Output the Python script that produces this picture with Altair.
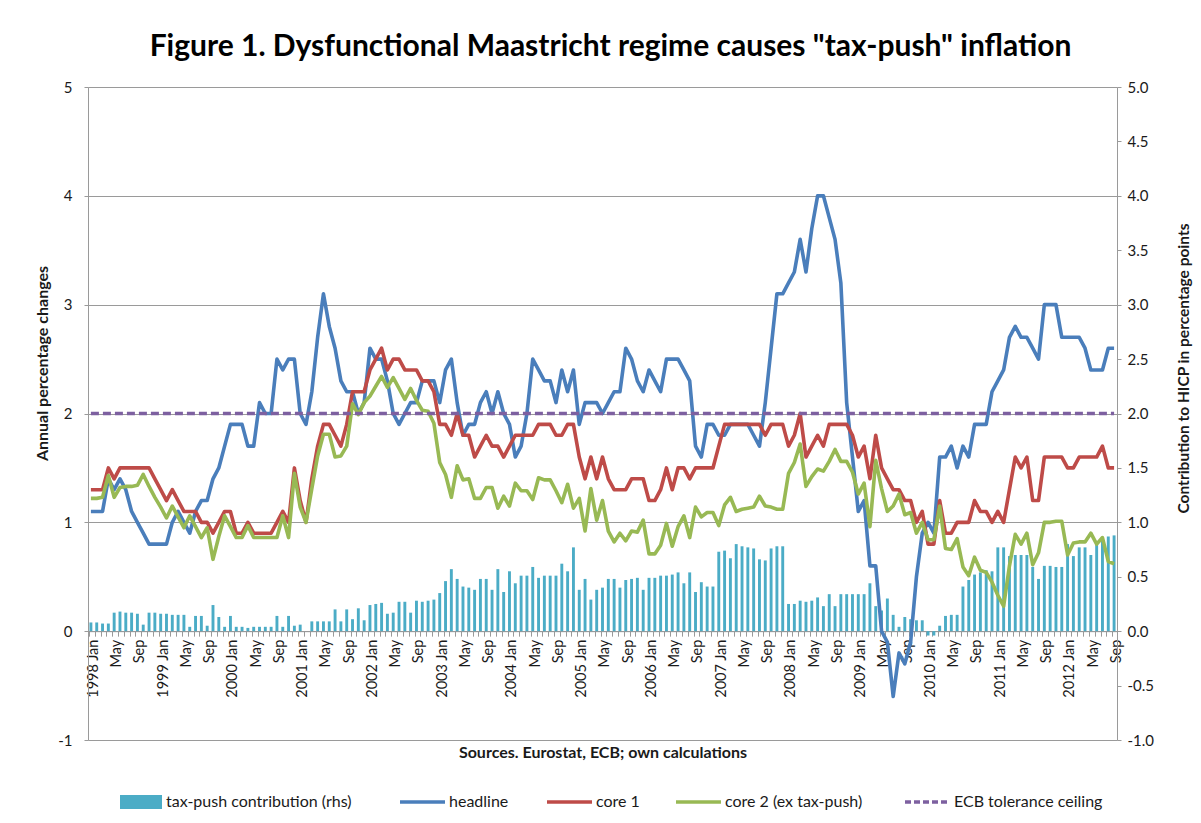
import altair as alt
import pandas as pd

# ---------------- data ----------------
years = list(range(1998, 2013))
months = [f"{y}-{m:02d}" for y in years for m in range(1, 13)][:177]   # 1998-01 .. 2012-09

headline = [
    1.1, 1.1, 1.1, 1.4, 1.3, 1.4, 1.3, 1.1, 1.0, 0.9, 0.8, 0.8,   # 1998
    0.8, 0.8, 1.0, 1.1, 1.0, 0.9, 1.1, 1.2, 1.2, 1.4, 1.5, 1.7,   # 1999
    1.9, 1.9, 1.9, 1.7, 1.7, 2.1, 2.0, 2.0, 2.5, 2.4, 2.5, 2.5,   # 2000
    2.0, 1.9, 2.2, 2.7, 3.1, 2.8, 2.6, 2.3, 2.2, 2.2, 2.0, 2.1,   # 2001
    2.6, 2.5, 2.5, 2.3, 2.0, 1.9, 2.0, 2.1, 2.1, 2.3, 2.3, 2.3,   # 2002
    2.1, 2.4, 2.5, 2.1, 1.8, 1.9, 1.9, 2.1, 2.2, 2.0, 2.2, 2.0,   # 2003
    1.9, 1.6, 1.7, 2.0, 2.5, 2.4, 2.3, 2.3, 2.1, 2.4, 2.2, 2.4,   # 2004
    1.9, 2.1, 2.1, 2.1, 2.0, 2.1, 2.2, 2.2, 2.6, 2.5, 2.3, 2.2,   # 2005
    2.4, 2.3, 2.2, 2.5, 2.5, 2.5, 2.4, 2.3, 1.7, 1.6, 1.9, 1.9,   # 2006
    1.8, 1.8, 1.9, 1.9, 1.9, 1.9, 1.8, 1.7, 2.1, 2.6, 3.1, 3.1,   # 2007
    3.2, 3.3, 3.6, 3.3, 3.7, 4.0, 4.0, 3.8, 3.6, 3.2, 2.1, 1.6,   # 2008
    1.1, 1.2, 0.6, 0.6, 0.0, -0.1, -0.6, -0.2, -0.3, -0.1, 0.5, 0.9,  # 2009
    1.0, 0.9, 1.6, 1.6, 1.7, 1.5, 1.7, 1.6, 1.9, 1.9, 1.9, 2.2,   # 2010
    2.3, 2.4, 2.7, 2.8, 2.7, 2.7, 2.6, 2.5, 3.0, 3.0, 3.0, 2.7,   # 2011
    2.7, 2.7, 2.7, 2.6, 2.4, 2.4, 2.4, 2.6, 2.6,                  # 2012
]

core1 = [
    1.3, 1.3, 1.3, 1.5, 1.4, 1.5, 1.5, 1.5, 1.5, 1.5, 1.5, 1.4,
    1.3, 1.2, 1.3, 1.2, 1.1, 1.1, 1.1, 1.0, 1.0, 0.9, 1.0, 1.1,
    1.1, 0.9, 0.9, 1.0, 0.9, 0.9, 0.9, 0.9, 1.0, 1.1, 1.0, 1.5,
    1.2, 1.0, 1.4, 1.7, 1.9, 1.9, 1.8, 1.7, 1.9, 2.2, 2.2, 2.2,
    2.4, 2.5, 2.6, 2.4, 2.5, 2.5, 2.4, 2.4, 2.4, 2.3, 2.3, 2.2,
    1.9, 1.9, 1.8, 2.0, 1.8, 1.8, 1.6, 1.7, 1.8, 1.7, 1.7, 1.6,
    1.7, 1.8, 1.8, 1.8, 1.8, 1.9, 1.9, 1.9, 1.8, 1.8, 1.9, 1.9,
    1.6, 1.4, 1.6, 1.4, 1.6, 1.4, 1.3, 1.3, 1.3, 1.4, 1.4, 1.4,
    1.2, 1.2, 1.3, 1.5, 1.3, 1.5, 1.5, 1.4, 1.5, 1.5, 1.5, 1.5,
    1.7, 1.9, 1.9, 1.9, 1.9, 1.9, 1.9, 1.9, 1.8, 1.9, 1.9, 1.9,
    1.7, 1.8, 2.0, 1.6, 1.7, 1.8, 1.7, 1.9, 1.9, 1.9, 1.9, 1.8,
    1.6, 1.7, 1.4, 1.8, 1.5, 1.4, 1.3, 1.3, 1.2, 1.2, 1.0, 1.1,
    0.8, 0.8, 1.2, 0.9, 0.9, 1.0, 1.0, 1.0, 1.2, 1.1, 1.1, 1.0,
    1.1, 1.0, 1.3, 1.6, 1.5, 1.6, 1.2, 1.2, 1.6, 1.6, 1.6, 1.6,
    1.5, 1.5, 1.6, 1.6, 1.6, 1.6, 1.7, 1.5, 1.5,
]

core2 = [
    1.22, 1.22, 1.23, 1.43, 1.23, 1.32, 1.33, 1.33, 1.34, 1.44, 1.33, 1.23,
    1.14, 1.04, 1.15, 1.05, 0.95, 1.06, 0.96, 0.86, 0.95, 0.66, 0.87, 1.06,
    0.96, 0.86, 0.86, 0.97, 0.86, 0.86, 0.86, 0.86, 0.86, 1.06, 0.86, 1.45,
    1.14, 1.00, 1.31, 1.61, 1.81, 1.81, 1.60, 1.61, 1.70, 2.09, 1.99, 2.10,
    2.16, 2.25, 2.34, 2.24, 2.33, 2.23, 2.13, 2.23, 2.12, 2.03, 2.02, 1.91,
    1.55, 1.44, 1.23, 1.52, 1.39, 1.40, 1.22, 1.22, 1.32, 1.32, 1.13, 1.24,
    1.15, 1.36, 1.29, 1.29, 1.21, 1.41, 1.39, 1.39, 1.29, 1.18, 1.35, 1.13,
    1.22, 0.92, 1.31, 1.02, 1.20, 0.92, 0.82, 0.90, 0.83, 0.92, 0.91, 1.02,
    0.71, 0.71, 0.79, 0.99, 0.78, 0.96, 1.06, 0.86, 1.14, 1.05, 1.09, 1.09,
    0.97, 1.16, 1.23, 1.10, 1.12, 1.13, 1.14, 1.24, 1.15, 1.14, 1.12, 1.12,
    1.45, 1.55, 1.72, 1.33, 1.42, 1.49, 1.47, 1.56, 1.67, 1.56, 1.56, 1.46,
    1.26, 1.36, 0.96, 1.57, 1.31, 1.10, 1.15, 1.26, 1.07, 1.09, 0.90, 1.00,
    0.84, 0.84, 1.15, 0.76, 0.75, 0.85, 0.59, 0.51, 0.68, 0.56, 0.54, 0.45,
    0.33, 0.23, 0.60, 0.89, 0.80, 0.90, 0.61, 0.72, 1.00, 1.00, 1.01, 1.01,
    0.70, 0.81, 0.82, 0.82, 0.90, 0.80, 0.86, 0.64, 0.62,
]

taxpush = [
    0.08, 0.08, 0.07, 0.07, 0.17, 0.18, 0.17, 0.17, 0.16, 0.06, 0.17, 0.17,
    0.16, 0.16, 0.15, 0.15, 0.15, 0.04, 0.14, 0.14, 0.05, 0.24, 0.13, 0.04,
    0.14, 0.04, 0.04, 0.03, 0.04, 0.04, 0.04, 0.04, 0.14, 0.04, 0.14, 0.05,
    0.06, 0.00, 0.09, 0.09, 0.09, 0.09, 0.20, 0.09, 0.20, 0.11, 0.21, 0.10,
    0.24, 0.25, 0.26, 0.16, 0.17, 0.27, 0.27, 0.17, 0.28, 0.27, 0.28, 0.29,
    0.35, 0.46, 0.57, 0.48, 0.41, 0.40, 0.38, 0.48, 0.48, 0.38, 0.57, 0.36,
    0.55, 0.44, 0.51, 0.51, 0.59, 0.49, 0.51, 0.51, 0.51, 0.62, 0.55, 0.77,
    0.38, 0.48, 0.29, 0.38, 0.40, 0.48, 0.48, 0.40, 0.47, 0.48, 0.49, 0.38,
    0.49, 0.49, 0.51, 0.51, 0.52, 0.54, 0.44, 0.54, 0.36, 0.45, 0.41, 0.41,
    0.73, 0.74, 0.67, 0.80, 0.78, 0.77, 0.76, 0.66, 0.65, 0.76, 0.78, 0.78,
    0.25, 0.25, 0.28, 0.27, 0.28, 0.31, 0.23, 0.34, 0.23, 0.34, 0.34, 0.34,
    0.34, 0.34, 0.44, 0.23, 0.19, 0.30, 0.15, 0.04, 0.13, 0.11, 0.10, 0.10,
    -0.04, -0.04, 0.05, 0.14, 0.15, 0.15, 0.41, 0.47, 0.52, 0.54, 0.56, 0.55,
    0.77, 0.77, 0.69, 0.70, 0.70, 0.70, 0.59, 0.48, 0.60, 0.60, 0.59, 0.59,
    0.80, 0.69, 0.77, 0.77, 0.70, 0.80, 0.85, 0.87, 0.88,
]

ceiling_value = 2.0
ceiling = [ceiling_value] * len(months)

left_ticks = [-1, 0, 1, 2, 3, 4, 5]
right_ticks = [-1.0, -0.5, 0.0, 0.5, 1.0, 1.5, 2.0, 2.5, 3.0, 3.5, 4.0, 4.5, 5.0]

series_names = ["tax-push contribution (rhs)", "headline", "core 1",
                "core 2 (ex tax-push)", "ECB tolerance ceiling"]

df = pd.DataFrame({
    "month": months,
    "headline": headline,
    "core1": core1,
    "core2": core2,
    "ceiling": ceiling,
    "taxpush": taxpush,
})

# ---------------- styling ----------------
FONT = "Lato"
TXT = "#1a1a1a"
GRID = "#9a9a9a"
C_BAR = "#4BACC6"
C_HEAD = "#4A7EBB"
C_CORE1 = "#BE4B48"
C_CORE2 = "#98B954"
C_CEIL = "#7D60A0"
LW = 3.6

W, H = 1029, 653
x0_offset = -(H * 1.0 / 6.0)   # x axis sits at y = 0 on a [-1, 5] domain

label_expr = (
    "slice(datum.value, 5) == '01' ? slice(datum.value, 0, 4) + ' Jan' : "
    "(slice(datum.value, 5) == '05' ? 'May' : "
    "(slice(datum.value, 5) == '09' ? 'Sep' : ''))"
)

x_axis = alt.Axis(
    orient="bottom", offset=x0_offset, labelExpr=label_expr, labelAngle=270,
    labelAlign="right", labelBaseline="middle", labelPadding=3, labelOverlap=False,
    labelFontSize=14.5, labelColor=TXT, labelFont=FONT,
    bandPosition=0, labelOffset=W / 177 / 2, tickSize=5, tickColor=GRID,
    domainColor=GRID, grid=False,
    title="Sources. Eurostat, ECB; own calculations", titleFont=FONT,
    titleFontSize=16, titleFontWeight="bold", titleColor=TXT,
    titleX=W / 2, titleY=121, titleAlign="center", titleBaseline="middle",
)

x_enc = alt.X("month:O", sort=None, axis=x_axis,
              scale=alt.Scale(paddingInner=0.5, paddingOuter=0.25))

minus_fix = "replace(datum.label, '\u2212', '-')"

left_axis = alt.Axis(
    orient="left", values=left_ticks, format="d", labelExpr=minus_fix,
    grid=True, gridColor=GRID, gridWidth=1, domainColor=GRID, tickColor=GRID,
    tickSize=4, labelPadding=12, labelFontSize=15, labelColor=TXT, labelFont=FONT,
    title="Annual percentage changes", titleFont=FONT, titleFontSize=16,
    titleFontWeight="bold", titleColor=TXT, titleAngle=270,
    titleX=-46, titleY=276, titleAlign="center", titleBaseline="middle",
)

right_axis = alt.Axis(
    orient="right", values=right_ticks, format=".1f", labelExpr=minus_fix,
    grid=False, domainColor=GRID, tickColor=GRID, tickSize=4, labelPadding=6,
    labelFontSize=15, labelColor=TXT, labelFont=FONT,
    title="Contribution to HICP in percentage points", titleFont=FONT,
    titleFontSize=15.5, titleFontWeight="bold", titleColor=TXT, titleAngle=270,
    titleX=66, titleY=281, titleAlign="center", titleBaseline="middle",
)

y_scale = alt.Scale(domain=[-1, 5], nice=False, zero=False)
base = alt.Chart(df)

bars = base.mark_bar(color=C_BAR).encode(
    x=x_enc,
    y=alt.Y("taxpush:Q", scale=y_scale, axis=right_axis),
)

def line(field, color, dash=None):
    kw = dict(color=color, strokeWidth=LW, strokeJoin="round")
    if dash:
        kw["strokeDash"] = dash
    return base.mark_line(**kw).encode(
        x=x_enc,
        y=alt.Y(f"{field}:Q", scale=y_scale, axis=left_axis),
    )

lines = alt.layer(
    line("headline", C_HEAD),
    line("core1", C_CORE1),
    line("core2", C_CORE2),
    line("ceiling", C_CEIL, dash=[8, 4]),
)

# ---------------- legend (drawn below the plot) ----------------
one = pd.DataFrame({"k": [0]})
LY = 715
LFS = 16
legend_layers = [
    alt.Chart(one).mark_rect(color=C_BAR).encode(
        x=alt.value(32), x2=alt.value(74), y=alt.value(LY - 7), y2=alt.value(LY + 7)),
]
legend_items = [
    (series_names[0], None, None, 78),
    (series_names[1], C_HEAD, None, 312),
    (series_names[2], C_CORE1, None, 459),
    (series_names[3], C_CORE2, None, 588),
    (series_names[4], C_CEIL, [6, 3], 817),
]
for name, color, dash, lx in legend_items:
    tx = lx
    if color is not None:
        kw = dict(color=color, strokeWidth=LW)
        if dash:
            kw["strokeDash"] = dash
        legend_layers.append(
            alt.Chart(one).mark_rule(**kw).encode(
                x=alt.value(lx), x2=alt.value(lx + 45), y=alt.value(LY)))
        tx = lx + 49
    legend_layers.append(
        alt.Chart(one).mark_text(align="left", baseline="middle", font=FONT,
                                 fontSize=LFS, color=TXT).encode(
            x=alt.value(tx), y=alt.value(LY), text=alt.value(name)))

main = alt.layer(bars, lines).resolve_scale(y="independent")

chart = alt.layer(main, *legend_layers).properties(
    width=W,
    height=H,
    padding={"left": 80, "top": 79, "right": 76, "bottom": 75},
    autosize=alt.AutoSizeParams(type="none"),
    title=alt.TitleParams(
        text='Figure 1. Dysfunctional Maastricht regime causes "tax-push" inflation',
        font=FONT, fontSize=30, fontWeight="bold", color="#000000",
        anchor="middle", frame="group", offset=18, dx=8,
    ),
).configure_view(stroke=None).configure(background="white")

chart.save("out.html", embed_options={"renderer": "svg", "actions": False})
